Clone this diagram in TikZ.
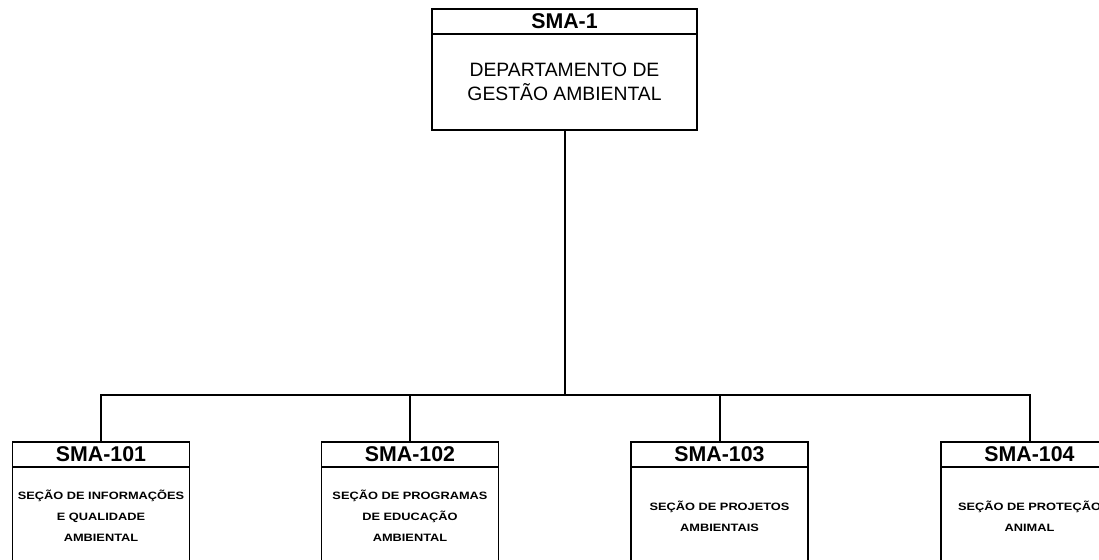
\documentclass[tikz,border=0pt]{standalone}
\usepackage{fontspec}
\setmainfont{Liberation Sans}
\newfontfamily\smallfont[FakeStretch=1.2]{Liberation Sans}
\begin{document}
\begin{tikzpicture}[x=0.75pt,y=-0.75pt,
  box/.style={draw=black, line width=1.4pt, inner sep=0pt, outer sep=0pt, anchor=north, align=center},
  tophdr/.style={box, minimum width=198.75pt, minimum height=18.75pt, font=\bfseries\fontsize{16}{16}\selectfont},
  topbody/.style={box, minimum width=198.75pt, minimum height=72pt, font=\fontsize{14.5}{18}\selectfont},
  subhdr/.style={box, minimum width=132.75pt, minimum height=18.75pt, font=\bfseries\fontsize{16}{16}\selectfont},
  subbody/.style={box, minimum width=132.75pt, minimum height=73.5pt, font=\smallfont\bfseries\fontsize{8}{15.75}\selectfont},
  conn/.style={draw=black, line width=1.5pt}]
\useasboundingbox (0,0) rectangle (1099,560);
\clip (0,0) rectangle (1099,560);
\fill[white] (0,0) rectangle (1099,560);

\node[tophdr] (th) at (564.5,9) {SMA-1};
\node[topbody] (tb) at (th.south) {DEPARTAMENTO DE\\GESTÃO AMBIENTAL};

\node[subhdr] (h1) at (101,442) {SMA-101};
\node[subbody] (b1) at (h1.south) {SEÇÃO DE INFORMAÇÕES\\E QUALIDADE\\AMBIENTAL};
\node[subhdr] (h2) at (410,442) {SMA-102};
\node[subbody] (b2) at (h2.south) {SEÇÃO DE PROGRAMAS\\DE EDUCAÇÃO\\AMBIENTAL};
\node[subhdr] (h3) at (719.5,442) {SMA-103};
\node[subbody] (b3) at (h3.south) {SEÇÃO DE PROJETOS\\AMBIENTAIS};
\node[subhdr] (h4) at (1029.5,442) {SMA-104};
\node[subbody] (b4) at (h4.south) {SEÇÃO DE PROTEÇÃO\\ANIMAL};

\coordinate (bus) at (0,395);
\draw[conn] (tb.south) -- (tb.south |- bus);
\draw[conn] (h1.north) |- (h4.north |- bus) -- (h4.north);
\draw[conn] (h2.north) -- (h2.north |- bus);
\draw[conn] (h3.north) -- (h3.north |- bus);
\end{tikzpicture}
\end{document}
